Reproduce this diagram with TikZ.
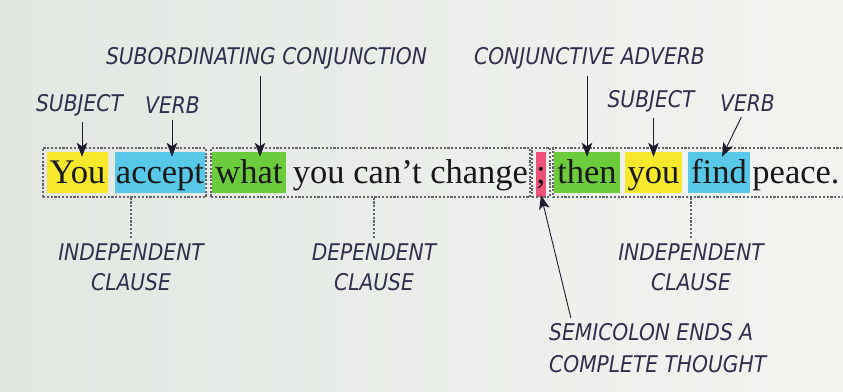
\documentclass[tikz,border=0pt]{standalone}
\usepackage{fontspec}
\setmainfont{Liberation Serif}
\newfontfamily\notefont{DejaVu Sans}[FakeStretch=0.88]
\usetikzlibrary{arrows.meta}

\definecolor{paper}{RGB}{226,231,226}
\definecolor{paperlight}{RGB}{242,244,240}
\definecolor{ink}{RGB}{24,24,24}
\definecolor{pen}{RGB}{48,48,76}
\definecolor{hlyellow}{RGB}{248,232,44}
\definecolor{hlblue}{RGB}{88,200,232}
\definecolor{hlgreen}{RGB}{108,204,60}
\definecolor{hlpink}{RGB}{236,82,122}
\definecolor{dots}{RGB}{100,100,108}

\begin{document}
\begin{tikzpicture}[x=1pt, y=-1pt,
word/.style={anchor=base, inner xsep=0pt, inner ysep=4pt, text height=27pt, text depth=6pt,
  text=ink, font=\fontsize{34.5}{34.5}\selectfont},
note/.style={inner sep=1pt, text=pen, align=center, font=\notefont\itshape\fontsize{23}{30}\selectfont},
clause/.style={draw=dots, line width=1.1pt, dash pattern=on 2.2pt off 1.6pt, inner sep=0pt, minimum height=49pt},
clauselink/.style={dots, line width=1.1pt, dash pattern=on 2.2pt off 1.6pt, shorten >=5pt},
pointer/.style={draw=pen!60!black, line width=0.9pt, shorten <=5pt,
  -{Stealth[length=14pt, width=10.5pt, inset=3.5pt]}}]

% BACKGROUND
\shade[left color=paper, right color=paperlight] (0,0) rectangle (843,391);
\useasboundingbox (0,0) rectangle (843,391);

% SENTENCE
\node[word, fill=hlyellow, minimum width=61pt] (you) at (77.5,183) {You};
\node[word, fill=hlblue, minimum width=90pt] (accept) at (160,183) {accept};
\node[word, fill=hlgreen, minimum width=74pt] (what) at (249,183) {what};
\node[word] (change) at (410.5,183) {you can’t change};
\node[word, fill=hlpink, minimum width=10pt, text depth=10pt] (semi) at (541,183) {;};
\node[word, fill=hlgreen, minimum width=66pt] (then) at (587,183) {then};
\node[word, fill=hlyellow, minimum width=57pt] (youB) at (653.5,183) {you};
\node[word, fill=hlblue, minimum width=62pt] (find) at (719,183) {find};
\node[word] (peace) at (796,183) {peace.};

% CLAUSE BOXES
\node[clause, minimum width=163pt] (clauseA) at (124.5,172.5) {};
\node[clause, minimum width=319pt] (clauseB) at (370.5,172.5) {};
\node[clause, minimum width=18pt] (clauseS) at (541,172.5) {};
\node[clause, minimum width=295pt] (clauseC) at (700.5,172.5) {};

% LABELS ABOVE
\node[note] (subjA) at (79.5,105) {SUBJECT};
\node[note] (verbA) at (172.5,105) {VERB};
\node[note] (subconj) at (266.5,58.5) {SUBORDINATING CONJUNCTION};
\node[note] (conjadv) at (589.5,58.5) {CONJUNCTIVE ADVERB};
\node[note] (subjB) at (651,101) {SUBJECT};
\node[note] (verbB) at (747.5,103) {VERB};

% LABELS BELOW
\node[note] (indepA) at (131,267.5) {INDEPENDENT\\CLAUSE};
\node[note] (depB) at (374,267.5) {DEPENDENT\\CLAUSE};
\node[note] (indepC) at (691,267.5) {INDEPENDENT\\CLAUSE};
\node[note, align=left, anchor=west, font=\notefont\itshape\fontsize{23}{32}\selectfont]
  (semiNote) at (548,348.5) {SEMICOLON ENDS A\\COMPLETE THOUGHT};

% pointers down to the words
\foreach \lbl/\wrd/\dx in {subjA/you/4.5, verbA/accept/12, subconj/what/11, conjadv/then/0, subjB/youB/0}{
  \coordinate (tip) at ([xshift=\dx pt, yshift=-5pt]\wrd.north);
  \draw[pointer] (\lbl.south -| tip) -- (tip);
}
\draw[pointer] ([xshift=-4pt]verbB.south) -- ([xshift=3pt, yshift=-5pt]find.north);
\draw[pointer] ([xshift=24pt]semiNote.north west) -- ([yshift=2pt]semi.south);

% dotted links to the clauses
\draw[clauselink] (indepA.north |- clauseA.south) -- (indepA.north);
\draw[clauselink] (depB.north |- clauseB.south) -- (depB.north);
\draw[clauselink] (indepC.north |- clauseC.south) -- (indepC.north);

\end{tikzpicture}
\end{document}
